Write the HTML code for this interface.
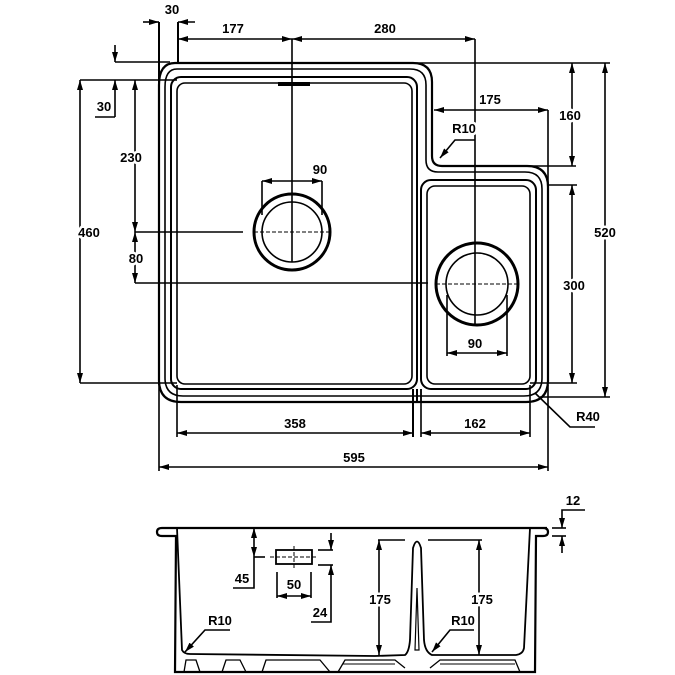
<!DOCTYPE html>
<html><head><style>html,body{margin:0;padding:0;background:#fff}svg{display:block}
text{font-family:"Liberation Sans",sans-serif;font-size:13px;font-weight:bold;fill:#000;text-anchor:middle;stroke:#fff;stroke-width:5px;paint-order:stroke;stroke-linejoin:round}</style></head>
<body>
<svg width="675" height="675" viewBox="0 0 675 675" xmlns="http://www.w3.org/2000/svg">
<defs>
<marker id="a" viewBox="0 0 10 6" refX="10" refY="3" markerWidth="10" markerHeight="6" markerUnits="userSpaceOnUse" orient="auto-start-reverse"><path d="M0,0L10,3L0,6z" fill="#000"/></marker>
</defs>
<g fill="none" stroke="#000" stroke-width="1.6">
<path d="M175,63 H413 Q432,63 432,82 V156 Q432,166 442,166 H527 Q548,166 548,187 V380 Q548,402 526,402 H181 Q159,402 159,380 V85 Q159,63 175,63 Z" stroke-width="2.2"/>
<path d="M177,69 H410 Q426,69 426,85 V160 Q426,172 438,172 H525 Q542,172 542,189 V378 Q542,396 524,396 H183 Q165,396 165,378 V87 Q165,69 177,69 Z"/>
<rect x="171" y="77" width="246" height="312" rx="10" stroke-width="2"/>
<rect x="177" y="83" width="235" height="301" rx="8"/>
<rect x="421" y="180" width="115" height="209" rx="10" stroke-width="2"/>
<rect x="427" y="186" width="103" height="198" rx="8"/>
<line x1="417" y1="389" x2="417" y2="402" stroke-width="2"/>
<line x1="421" y1="389" x2="421" y2="402"/>
<line x1="278" y1="84" x2="310" y2="84" stroke-width="4"/>
<circle cx="292" cy="232" r="38" stroke-width="3"/>
<circle cx="292" cy="232" r="30"/>
<circle cx="477" cy="284" r="41" stroke-width="3"/>
<circle cx="477" cy="284" r="31"/>
<line x1="254" y1="232" x2="330" y2="232" stroke-dasharray="4,2" stroke-width="1"/>
<line x1="436" y1="284" x2="518" y2="284" stroke-dasharray="4,2" stroke-width="1"/>
<line x1="292" y1="39" x2="292" y2="262"/>
<line x1="475" y1="39" x2="475" y2="325"/>
<line x1="159" y1="22" x2="159" y2="385" stroke-width="2"/>
<line x1="178" y1="22" x2="178" y2="63" stroke-width="2"/>
<line x1="143" y1="22" x2="159" y2="22" marker-end="url(#a)"/>
<line x1="195" y1="22" x2="178" y2="22" marker-end="url(#a)"/>
<line x1="178" y1="39" x2="292" y2="39" marker-start="url(#a)" marker-end="url(#a)"/>
<line x1="292" y1="39" x2="475" y2="39" marker-start="url(#a)" marker-end="url(#a)"/>
<line x1="115" y1="62" x2="170" y2="62"/>
<line x1="80" y1="80" x2="177" y2="80"/>
<line x1="115" y1="45" x2="115" y2="62" marker-end="url(#a)"/>
<line x1="115" y1="117" x2="115" y2="80" marker-end="url(#a)"/>
<line x1="95" y1="117" x2="115" y2="117"/>
<line x1="80" y1="80" x2="80" y2="383" marker-start="url(#a)" marker-end="url(#a)"/>
<line x1="80" y1="383" x2="177" y2="383"/>
<line x1="135" y1="80" x2="135" y2="232" marker-start="url(#a)" marker-end="url(#a)"/>
<line x1="135" y1="232" x2="243" y2="232"/>
<line x1="135" y1="232" x2="135" y2="283" marker-start="url(#a)" marker-end="url(#a)"/>
<line x1="135" y1="283" x2="428" y2="283"/>
<line x1="415" y1="63" x2="610" y2="63"/>
<line x1="605" y1="63" x2="605" y2="397" marker-start="url(#a)" marker-end="url(#a)"/>
<line x1="540" y1="397" x2="610" y2="397"/>
<line x1="572" y1="63" x2="572" y2="166" marker-start="url(#a)" marker-end="url(#a)"/>
<line x1="527" y1="166" x2="576" y2="166"/>
<line x1="434" y1="110" x2="548" y2="110" marker-start="url(#a)" marker-end="url(#a)"/>
<line x1="548" y1="110" x2="548" y2="185"/>
<line x1="548" y1="185" x2="577" y2="185"/>
<line x1="572" y1="185" x2="572" y2="383" marker-start="url(#a)" marker-end="url(#a)"/>
<line x1="530" y1="383" x2="577" y2="383"/>
<polyline points="475,140 455,140 440,158" marker-end="url(#a)"/>
<line x1="262" y1="181" x2="262" y2="215"/>
<line x1="322" y1="181" x2="322" y2="215"/>
<line x1="262" y1="181" x2="322" y2="181" marker-start="url(#a)" marker-end="url(#a)"/>
<line x1="447" y1="295" x2="447" y2="356"/>
<line x1="507" y1="295" x2="507" y2="356"/>
<line x1="447" y1="353" x2="507" y2="353" marker-start="url(#a)" marker-end="url(#a)"/>
<line x1="177" y1="385" x2="177" y2="437"/>
<line x1="413" y1="389" x2="413" y2="437" stroke-width="2"/>
<line x1="421" y1="389" x2="421" y2="437"/>
<line x1="530" y1="385" x2="530" y2="437"/>
<line x1="177" y1="433" x2="413" y2="433" marker-start="url(#a)" marker-end="url(#a)"/>
<line x1="421" y1="433" x2="530" y2="433" marker-start="url(#a)" marker-end="url(#a)"/>
<line x1="159" y1="385" x2="159" y2="471"/>
<line x1="548" y1="385" x2="548" y2="471"/>
<line x1="159" y1="467" x2="548" y2="467" marker-start="url(#a)" marker-end="url(#a)"/>
<polyline points="595,427 570,427 535,393"/>
<path d="M547,528 H162 Q157,528 157,532 Q157,536 162,536 H176 L175,672 H535 L536,536 H543 Q548,536 548,532 Q548,528 543,528" stroke-width="2.2"/>
<path d="M177,528 L182,650 Q184,654 190,654 L375,656 L405,655 Q409,652 410,640 L413,548 Q417,535 421,548 L424,640 Q425,652 432,655 H516 Q523,654 524,648 L530,528" stroke-width="1.8"/>
<path d="M417,588 L415,650 L419,650 Z" stroke-width="1.2"/>
<path d="M184,672 L186,660 H196 L200,672 M222,672 L226,660 H240 L246,672 M262,672 L266,660 H320 L330,672 M338,672 L345,660 H395 L405,668 M430,668 L440,660 H515 L520,672" stroke-width="1.3"/>
<line x1="343" y1="664" x2="395" y2="664" stroke-width="1"/>
<line x1="440" y1="664" x2="515" y2="664" stroke-width="1"/>
<line x1="254" y1="528" x2="254" y2="557" marker-start="url(#a)" marker-end="url(#a)"/>
<line x1="254" y1="557" x2="265" y2="557"/>
<polyline points="254,557 254,588 233,588"/>
<rect x="276" y="550" width="36" height="14" stroke-width="1.8"/>
<line x1="270" y1="557" x2="318" y2="557" stroke-dasharray="4,2" stroke-width="1"/>
<line x1="294" y1="546" x2="294" y2="568" stroke-dasharray="4,2" stroke-width="1"/>
<line x1="277" y1="572" x2="277" y2="598"/>
<line x1="311" y1="572" x2="311" y2="598"/>
<line x1="277" y1="596" x2="311" y2="596" marker-start="url(#a)" marker-end="url(#a)"/>
<line x1="318" y1="550" x2="333" y2="550"/>
<line x1="318" y1="565" x2="333" y2="565"/>
<line x1="331" y1="533" x2="331" y2="550" marker-end="url(#a)"/>
<polyline points="331,565 331,622 311,622" marker-start="url(#a)"/>
<line x1="378" y1="540" x2="405" y2="540"/>
<line x1="428" y1="540" x2="482" y2="540"/>
<line x1="379" y1="540" x2="379" y2="655" marker-start="url(#a)" marker-end="url(#a)"/>
<line x1="479" y1="540" x2="479" y2="655" marker-start="url(#a)" marker-end="url(#a)"/>
<polyline points="585,510 562,510 562,528" marker-end="url(#a)"/>
<line x1="552" y1="528" x2="566" y2="528"/>
<line x1="552" y1="536" x2="566" y2="536"/>
<line x1="562" y1="553" x2="562" y2="536" marker-end="url(#a)"/>
<polyline points="230,630 205,630 185,652" marker-end="url(#a)"/>
<polyline points="474,630 450,630 432,652" marker-end="url(#a)"/>
</g>
<text x="172" y="14">30</text>
<text x="233" y="33">177</text>
<text x="385" y="33">280</text>
<text x="104" y="111">30</text>
<text x="89" y="237">460</text>
<text x="131" y="162">230</text>
<text x="136" y="263">80</text>
<text x="320" y="174">90</text>
<text x="490" y="104">175</text>
<text x="570" y="120">160</text>
<text x="464" y="133">R10</text>
<text x="605" y="237">520</text>
<text x="574" y="290">300</text>
<text x="475" y="348">90</text>
<text x="295" y="428">358</text>
<text x="475" y="428">162</text>
<text x="354" y="462">595</text>
<text x="588" y="421">R40</text>
<text x="573" y="505">12</text>
<text x="242" y="583">45</text>
<text x="294" y="589">50</text>
<text x="320" y="617">24</text>
<text x="380" y="604">175</text>
<text x="482" y="604">175</text>
<text x="220" y="625">R10</text>
<text x="463" y="625">R10</text>
</svg>
</body></html>
